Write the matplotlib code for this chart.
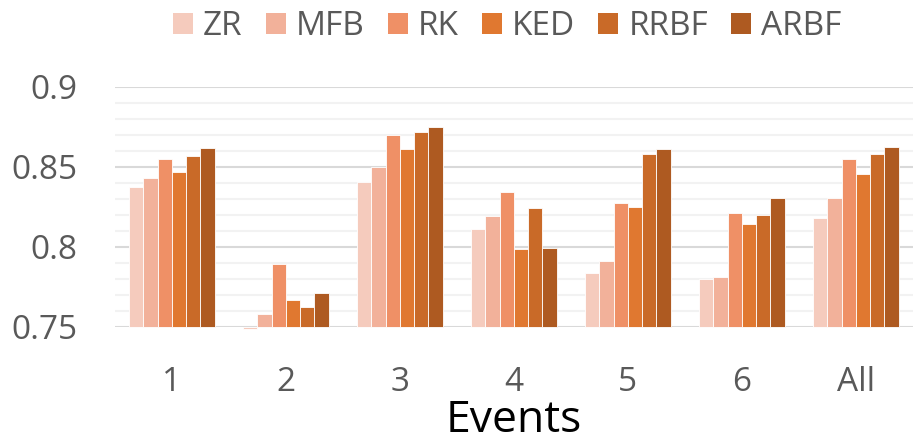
import numpy as np
import matplotlib
matplotlib.use("Agg")
import matplotlib.pyplot as plt
from matplotlib.patches import Patch

plt.rcParams["font.family"] = ["Open Sans", "DejaVu Sans"]

events = ["1", "2", "3", "4", "5", "6", "All"]
methods = ["ZR", "MFB", "RK", "KED", "RRBF", "ARBF"]
colors = ["#F5CBBD", "#F2B19A", "#EF9066", "#E07830", "#C96A28", "#AE5A21"]

zr = [0.8375, 0.7486, 0.8404, 0.8110, 0.7833, 0.7798, 0.8180]
mfb = [0.8431, 0.7578, 0.8500, 0.8190, 0.7910, 0.7813, 0.8302]
rk = [0.8550, 0.7890, 0.8698, 0.8344, 0.8271, 0.8211, 0.8546]
ked = [0.8467, 0.7667, 0.8609, 0.7986, 0.8250, 0.8142, 0.8454]
rrbf = [0.8569, 0.7625, 0.8719, 0.8240, 0.8577, 0.8200, 0.8577]
arbf = [0.8619, 0.7710, 0.8748, 0.7992, 0.8609, 0.8306, 0.8623]
series = [zr, mfb, rk, ked, rrbf, arbf]

base = 0.75
fig = plt.figure(figsize=(9.14, 4.45), dpi=100)
ax = fig.add_axes([0.1258, 0.2658, 0.873, 0.5394])

x = np.arange(len(events))
w = 0.125
for i, (vals, c) in enumerate(zip(series, colors)):
    h = np.array(vals) - base
    ax.bar(x + (i - 2.5) * w, h, w, bottom=base, color=c,
           edgecolor="white", linewidth=0.6, clip_on=False, zorder=3)

ax.set_xlim(-0.5, len(events) - 0.5)
ax.set_ylim(0.75, 0.9)
ax.set_yticks([0.75, 0.8, 0.85, 0.9])
ax.set_yticklabels(["0.75", "0.8", "0.85", "0.9"])
ax.set_yticks(np.arange(0.75, 0.9001, 0.01), minor=True)
ax.grid(axis="y", which="minor", color="#F2F2F2", linewidth=1.5, zorder=0)
ax.grid(axis="y", which="major", color="#D9D9D9", linewidth=1.5, zorder=1)
ax.tick_params(axis="y", which="both", length=0, pad=27, labelsize=24, labelcolor="#595959")
ax.set_xticks(x)
ax.set_xticklabels(events)
ax.tick_params(axis="x", length=0, pad=28, labelsize=24, labelcolor="#595959")
for s in ax.spines.values():
    s.set_visible(False)

ax.set_xlabel("Events", fontsize=32, color="black", labelpad=0)

handles = [Patch(facecolor=c, edgecolor="none") for c in colors]
fig.legend(handles, methods, loc="upper center", bbox_to_anchor=(0.555, 1.045),
           ncol=6, frameon=False, fontsize=24, labelcolor="#595959",
           handlelength=0.6, handleheight=0.6, handletextpad=0.3,
           columnspacing=0.7)

fig.savefig("out.png", dpi=100)
